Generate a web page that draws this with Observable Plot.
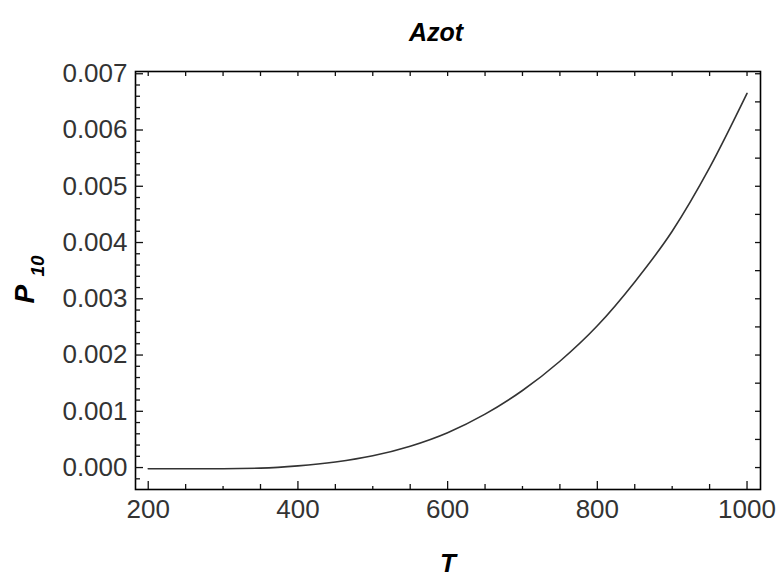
<!DOCTYPE html>
<html>
<head>
<meta charset="utf-8">
<script src="https://cdn.jsdelivr.net/npm/d3@7"></script>
<script src="https://cdn.jsdelivr.net/npm/@observablehq/plot@0.6"></script>
<style>
  html, body { margin: 0; padding: 0; background: #fff; }
  #chart svg { display: block; }
</style>
</head>
<body>
<div id="chart"></div>
<script>
// Data
const temperature = [200, 250, 300, 350, 400, 450, 500, 550, 600, 650, 700, 750, 800, 850, 900, 950, 1000];
const p10 = [-0.00002, -0.00002, -0.00002, -0.00001, 0.00003, 0.0001, 0.00021, 0.00038, 0.00062, 0.00095, 0.00137, 0.00189, 0.00252, 0.0033, 0.0042, 0.00533, 0.00665];

const xMajor = [200, 400, 600, 800, 1000];
const xMinorMid = [250, 350, 450, 550, 650, 750, 850, 950];
const xMinorSmall = [300, 500, 700, 900];
const xTop = [200, 250, 300, 350, 400, 450, 500, 550, 600, 650, 700, 750, 800, 850, 900, 950, 1000];
const yMajor = [0, 0.001, 0.002, 0.003, 0.004, 0.005, 0.006, 0.007];
const yMinor = [-0.0002, 0.0002, 0.0004, 0.0006, 0.0008, 0.0012, 0.0014, 0.0016, 0.0018, 0.0022, 0.0024, 0.0026, 0.0028,
  0.0032, 0.0034, 0.0036, 0.0038, 0.0042, 0.0044, 0.0046, 0.0048, 0.0052, 0.0054, 0.0056, 0.0058, 0.0062, 0.0064, 0.0066, 0.0068];
const yRight = [0, 0.0005, 0.001, 0.0015, 0.002, 0.0025, 0.003, 0.0035, 0.004, 0.0045, 0.005, 0.0055, 0.006, 0.0065, 0.007];

const titleText = "Azot";
const xLabel = "T";
const yLabelMain = "P";
const yLabelSub = "10";

const data = temperature.map((t, i) => ({T: t, P: p10[i]}));

const W = 778, H = 578;
const mL = 135, mR = 18, mT = 71, mB = 89;
const pw = W - mL - mR, ph = H - mT - mB;
const tickColor = "#111";
const font = "Liberation Sans, Arial, sans-serif";

const ticksBottom = (vals, len) => Plot.tickX(vals, {x: d => d, insetTop: ph - len, stroke: tickColor, strokeWidth: 1.3});
const ticksTop = (vals, len) => Plot.tickX(vals, {x: d => d, insetBottom: ph - len, stroke: tickColor, strokeWidth: 1.3});
const ticksLeft = (vals, len) => Plot.tickY(vals, {y: d => d, insetRight: pw - len, stroke: tickColor, strokeWidth: 1.3});
const ticksRight = (vals, len) => Plot.tickY(vals, {y: d => d, insetLeft: pw - len, stroke: tickColor, strokeWidth: 1.3});

const chart = Plot.plot({
  width: W,
  height: H,
  marginLeft: mL,
  marginRight: mR,
  marginTop: mT,
  marginBottom: mB,
  style: {fontFamily: font, background: "#fff", color: "#333"},
  x: {domain: [183, 1018], axis: null, label: null},
  y: {domain: [-0.00039, 0.00704], axis: null, label: null},
  marks: [
    Plot.frame({stroke: "#000", strokeWidth: 1.6}),
    ticksBottom(xMajor, 8),
    ticksBottom(xMinorMid, 5),
    ticksBottom(xMinorSmall, 3),
    ticksTop(xTop, 5),
    ticksLeft(yMajor, 8),
    ticksLeft(yMinor, 5),
    ticksRight(yRight, 5),
    Plot.axisX({ticks: xMajor, tickSize: 0, tickPadding: 10, fontSize: 26, label: null, tickFormat: d3.format("d"), fill: "#333"}),
    Plot.axisY({ticks: yMajor, tickSize: 0, tickPadding: 8, fontSize: 26, label: null, tickFormat: d3.format(".3f"), fill: "#333"}),
    Plot.line(data, {x: "T", y: "P", curve: "monotone-x", stroke: "#333", strokeWidth: 1.6}),
    Plot.text([titleText], {frameAnchor: "top", dx: -12, dy: -48, fontSize: 25, fontWeight: "bold", fontStyle: "italic", fill: "#000"}),
    Plot.text([xLabel], {frameAnchor: "bottom", dy: 82, fontSize: 26, fontWeight: "bold", fontStyle: "italic", fill: "#000"}),
    Plot.text([yLabelMain], {frameAnchor: "left", dx: -110, dy: 23, rotate: -90, fontSize: 28, fontWeight: "bold", fontStyle: "italic", fill: "#000"}),
    Plot.text([yLabelSub], {frameAnchor: "left", dx: -98, dy: -4, rotate: -90, fontSize: 19, fontWeight: "bold", fontStyle: "italic", fill: "#000"})
  ]
});
document.getElementById("chart").appendChild(chart);
</script>
</body>
</html>
